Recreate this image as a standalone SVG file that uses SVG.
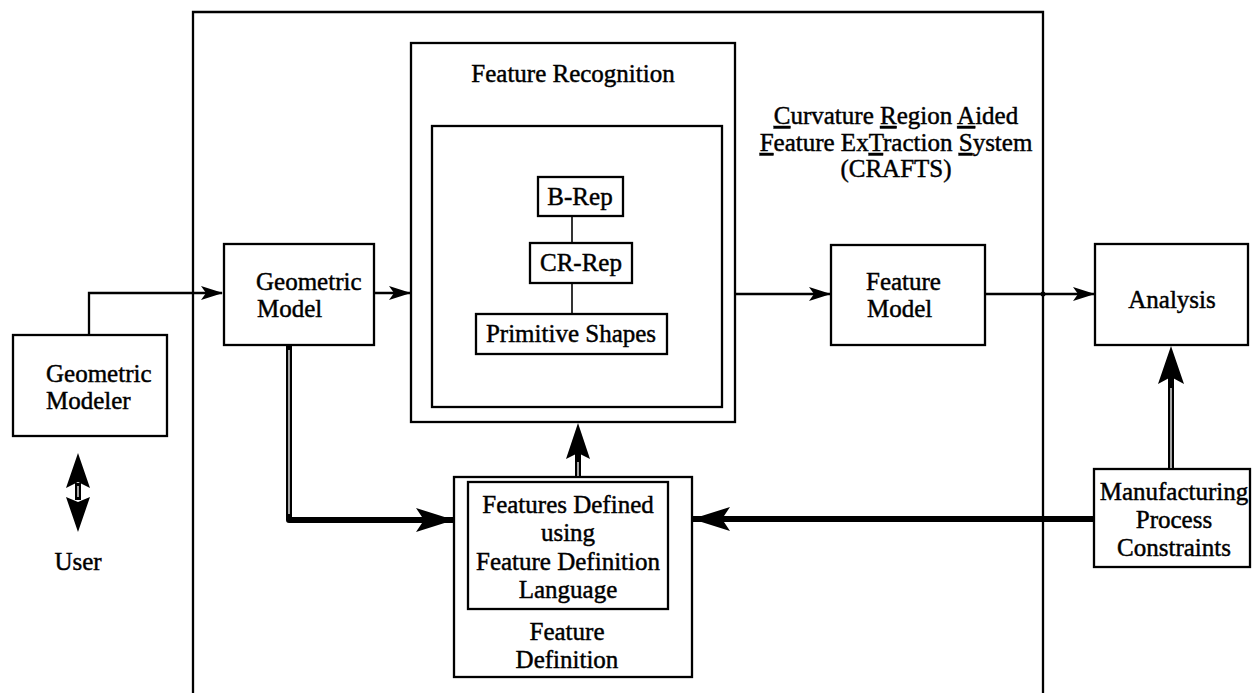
<svg xmlns="http://www.w3.org/2000/svg" width="1258" height="693" viewBox="0 0 1258 693">
<style>
.box{fill:none;stroke:#000;stroke-width:2.3}
.t{font-family:"Liberation Serif","Times New Roman",serif;font-size:25px;fill:#000;stroke:#000;stroke-width:0.45}
.c{text-anchor:middle}
.ln{fill:none;stroke:#000;stroke-width:2.3}
.thin{fill:none;stroke:#000;stroke-width:1.6}
.thick{fill:none;stroke:#000;stroke-width:6}
.core{fill:none;stroke:#fff;stroke-width:1.3}
.head{fill:#000}
</style>
<defs>
<marker id="ah" markerUnits="userSpaceOnUse" viewBox="0 0 22 14" refX="21" refY="7" markerWidth="22" markerHeight="14" orient="auto">
<path d="M0,0 L22,7 L0,14 L5,7 Z" fill="#000"/>
</marker>
<marker id="ahb" markerUnits="userSpaceOnUse" viewBox="0 0 38 24" refX="37" refY="12" markerWidth="38" markerHeight="24" orient="auto">
<path d="M0,0 L38,12 L0,24 L8,12 Z" fill="#000"/>
</marker>
</defs>

<g id="crafts-frame">
<path class="ln" d="M193,693 V12 H1043 V693"/>
<text class="t c" x="896" y="124"><tspan text-decoration="underline">C</tspan>urvature <tspan text-decoration="underline">R</tspan>egion <tspan text-decoration="underline">A</tspan>ided</text>
<text class="t c" x="896" y="151"><tspan text-decoration="underline">F</tspan>eature Ex<tspan text-decoration="underline">T</tspan>raction <tspan text-decoration="underline">S</tspan>ystem</text>
<text class="t c" x="896" y="177">(CRAFTS)</text>
</g>

<g id="geometric-modeler">
<rect class="box" x="13" y="335" width="154" height="101"/>
<text class="t" x="46" y="382">Geometric</text>
<text class="t" x="46" y="409">Modeler</text>
</g>

<g id="user">
<text class="t c" x="78" y="570">User</text>
</g>

<g id="geometric-model">
<rect class="box" x="224" y="244" width="150" height="101"/>
<text class="t" x="256" y="290">Geometric</text>
<text class="t" x="257" y="317">Model</text>
</g>

<g id="feature-recognition">
<rect class="box" x="411" y="43" width="324" height="379"/>
<text class="t c" x="573" y="82">Feature Recognition</text>
<rect class="box" x="432" y="126" width="290" height="281"/>
</g>

<g id="b-rep">
<rect class="box" x="538" y="177" width="85" height="39"/>
<text class="t c" x="580" y="205">B-Rep</text>
</g>
<g id="cr-rep">
<rect class="box" x="530" y="243" width="102" height="40"/>
<text class="t c" x="581" y="271">CR-Rep</text>
</g>
<g id="primitive-shapes">
<rect class="box" x="476" y="314" width="191" height="40"/>
<text class="t c" x="571" y="342">Primitive Shapes</text>
</g>

<g id="feature-model">
<rect class="box" x="831" y="245" width="154" height="100"/>
<text class="t" x="866" y="290">Feature</text>
<text class="t" x="867" y="317">Model</text>
</g>

<g id="analysis">
<rect class="box" x="1095" y="244" width="153" height="101"/>
<text class="t c" x="1172" y="308">Analysis</text>
</g>

<g id="manufacturing">
<rect class="box" x="1094" y="469" width="156" height="98"/>
<text class="t c" x="1174" y="500">Manufacturing</text>
<text class="t c" x="1174" y="528">Process</text>
<text class="t c" x="1174" y="556">Constraints</text>
</g>

<g id="feature-definition">
<rect class="box" x="454" y="477" width="238" height="200"/>
<rect class="box" x="468" y="482" width="200" height="127"/>
<text class="t c" x="568" y="513">Features Defined</text>
<text class="t c" x="568" y="541">using</text>
<text class="t c" x="568" y="570">Feature Definition</text>
<text class="t c" x="568" y="598">Language</text>
<text class="t c" x="567" y="640">Feature</text>
<text class="t c" x="567" y="668">Definition</text>
</g>

<g id="connectors">
<path class="ln" d="M89,335 V293 H222" marker-end="url(#ah)"/>
<path class="ln" d="M374,293 H410" marker-end="url(#ah)"/>
<path class="ln" d="M735,294 H830" marker-end="url(#ah)"/>
<path class="ln" d="M985,294 H1094" marker-end="url(#ah)"/>
<circle cx="1043" cy="294" r="2.5" fill="#000"/>
<path class="thin" d="M572,216 V243"/>
<path class="thin" d="M572,283 V314"/>
<path class="thick" d="M289,345 V520 H453" marker-end="url(#ahb)" stroke-linejoin="round"/>
<path class="core" d="M289,350 V514"/>
<path class="thick" d="M1094,519 H693" marker-end="url(#ahb)"/>
<!-- Feature Definition to Feature Recognition -->
<path class="thick" d="M578,477 V452" stroke-width="5"/>
<path class="core" d="M578,476 V462"/>
<path class="head" d="M578,423 L590,459 L578,453 L566,459 Z"/>
<!-- Manufacturing to Analysis -->
<path class="thick" d="M1171,469 V375" stroke-width="5"/>
<path class="core" d="M1171,468 V388"/>
<path class="head" d="M1171,346 L1184,384 L1171,377 L1158,384 Z"/>
<!-- User double arrow -->
<path class="thick" d="M78,483 V500" stroke-width="5"/>
<path class="core" d="M78,486 V497"/>
<path class="head" d="M78,453 L90,488 L78,482 L66,488 Z"/>
<path class="head" d="M78,532 L90,497 L78,502 L66,497 Z"/>
</g>
</svg>
